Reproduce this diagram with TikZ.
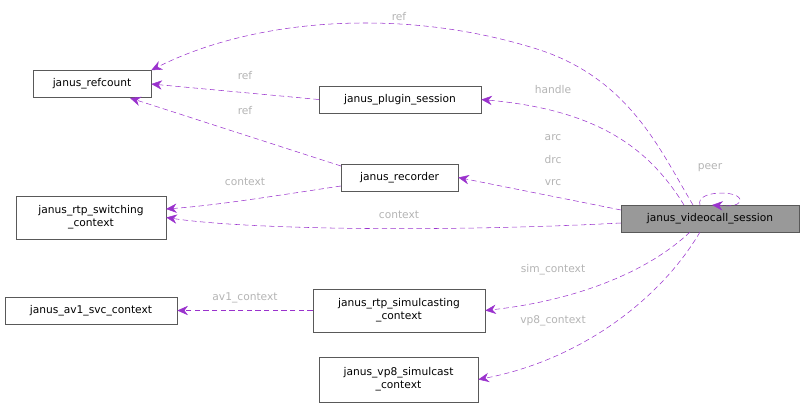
\documentclass[tikz,border=0pt]{standalone}
\usepackage{fontspec}
\setmainfont{DejaVu Sans}
\usetikzlibrary{arrows.meta}
\definecolor{edge}{HTML}{9A32CD}
\definecolor{lbl}{HTML}{B4B4B4}
\begin{document}
\begin{tikzpicture}[x=0.75pt,y=-0.75pt,
  box/.style={draw=black!65,fill=white,inner sep=0pt,align=center,font=\fontsize{8pt}{9.5pt}\selectfont},
  dep/.style={draw=edge,dash pattern=on 4pt off 2.5pt,-{Stealth[length=8pt,width=7pt]},fill=none},
  lab/.style={text=lbl,font=\fontsize{8pt}{9.5pt}\selectfont}]
\useasboundingbox (0,0) rectangle (805,408);
\node[box,minimum width=118*0.75pt,minimum height=27*0.75pt] (rc) at (92,84) {janus\_refcount};
\node[box,minimum width=162*0.75pt,minimum height=27*0.75pt] (ps) at (400,99.5) {janus\_plugin\_session};
\node[box,minimum width=117*0.75pt,minimum height=27*0.75pt] (rec) at (399.5,177.5) {janus\_recorder};
\node[box,minimum width=150*0.75pt,minimum height=43*0.75pt] (sw) at (91,217.5) {janus\_rtp\_switching\\\_context};
\node[box,fill=black!40,minimum width=178*0.75pt,minimum height=27*0.75pt] (vc) at (710,218.5) {janus\_videocall\_session};
\node[box,minimum width=172*0.75pt,minimum height=27*0.75pt] (av1) at (91,310.5) {janus\_av1\_svc\_context};
\node[box,minimum width=172*0.75pt,minimum height=43*0.75pt] (sim) at (399,310.5) {janus\_rtp\_simulcasting\\\_context};
\node[box,minimum width=159*0.75pt,minimum height=45*0.75pt] (vp8) at (398.5,379.5) {janus\_vp8\_simulcast\\\_context};

\draw[dep] (693,205) .. controls (660,150) and (630,80) .. (540,50) .. controls (400,5) and (250,20) .. (rc.north east);
\node[lab] at (399,17) {ref};
\draw[dep] (684,205) .. controls (650,150) and (600,110) .. (ps.east);
\node[lab] at (553,90) {handle};
\draw[dep] (621,210) -- (rec.east);
\node[lab] at (553,138) {arc};
\node[lab] at (553,160) {drc};
\node[lab] at (553,183) {vrc};
\draw[dep] (621,223) .. controls (450,232) and (250,230) .. (sw.east);
\node[lab] at (399,215) {context};
\draw[dep] (700,205) .. controls (695,190) and (740,190) .. (740,200) .. controls (740,207) and (725,206) .. (712,205);
\node[lab] at (710,168) {peer};
\draw[dep] (690,232) .. controls (650,270) and (580,300) .. (sim.east);
\node[lab] at (553,270) {sim\_context};
\draw[dep] (700,232) .. controls (660,300) and (580,360) .. (vp8.east);
\node[lab] at (553,321) {vp8\_context};
\draw[dep] (ps.west) -- (rc.east);
\node[lab] at (245,76) {ref};
\draw[dep] (341,166) -- (130,98);
\node[lab] at (245,111) {ref};
\draw[dep] (341,186) .. controls (280,195) and (220,205) .. (166,209);
\node[lab] at (245,182) {context};
\draw[dep] (sim.west) -- (av1.east);
\node[lab] at (245,298) {av1\_context};
\end{tikzpicture}
\end{document}
